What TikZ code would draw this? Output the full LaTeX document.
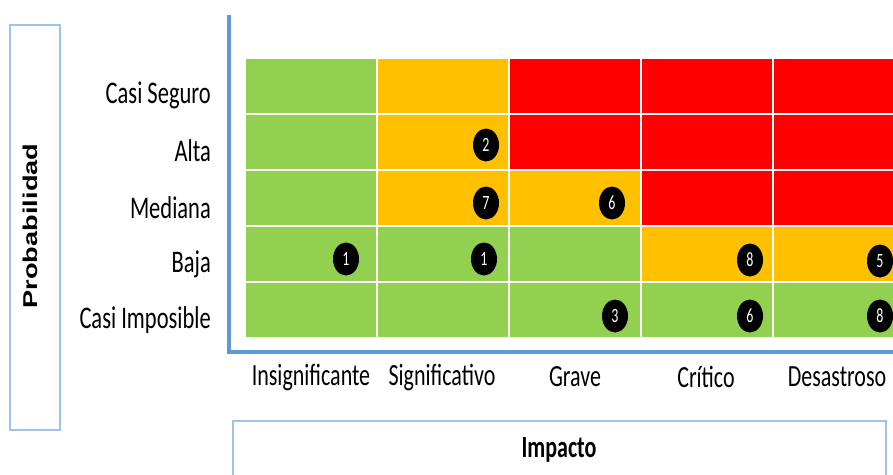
\documentclass[tikz,border=0pt]{standalone}
\usepackage{fontspec}
\setmainfont{Carlito}
\newfontfamily\arialb{Liberation Sans}
\usetikzlibrary{shapes.geometric}
\definecolor{cgreen}{HTML}{92D050}
\definecolor{corange}{HTML}{FFC000}
\definecolor{cred}{HTML}{FF0000}
\definecolor{axisblue}{HTML}{5B9BD5}
\definecolor{boxblue}{HTML}{9DC3E6}
\newcommand{\vstr}[1]{\scalebox{1}[1.4]{#1}}
\newcommand{\dstr}[1]{\scalebox{1}[1.45]{#1}}
\begin{document}
\begin{tikzpicture}[x=1pt,y=-1pt,
  rowlab/.style={anchor=east, inner sep=0pt, font=\fontsize{22.5}{26}\selectfont},
  collab/.style={inner sep=0pt, font=\fontsize{22}{26}\selectfont},
  badge/.style={ellipse, fill=black, text=white, minimum width=26pt, minimum height=33pt, inner sep=0pt, font=\fontsize{14}{16}\selectfont},
  cell/.style={draw=white, line width=1.5pt},
  framebox/.style={draw=boxblue, line width=1.3pt}]
\useasboundingbox (0,0) rectangle (893,474);
\begin{scope}
\clip (0,0) rectangle (893,474);
% grid cells
\foreach \r/\a/\b/\c/\d/\e in {0/cgreen/corange/cred/cred/cred,
                               1/cgreen/corange/cred/cred/cred,
                               2/cgreen/corange/corange/cred/cred,
                               3/cgreen/cgreen/cgreen/corange/corange,
                               4/cgreen/cgreen/cgreen/cgreen/cgreen}{
  \foreach \col [count=\i from 0] in {\a,\b,\c,\d,\e}{
    \filldraw[cell, fill=\col] (245+132*\i, 58+56*\r) rectangle ++(132,56);
  }
}
% axes
\coordinate (axtop) at (229,15);
\coordinate (axcorner) at (229,352);
\coordinate (axright) at (900,352);
\draw[axisblue, line width=3.5pt] (axtop) -- (axcorner) -- (axright);
% Impacto box
\coordinate (impA) at (233,421);
\coordinate (impB) at (886,490);
\draw[framebox] (impA) rectangle (impB);
\node[inner sep=0pt, font=\bfseries\fontsize{22}{26}\selectfont] (impacto) at (559,450) {\scalebox{1}[1.4]{Impacto}};
% badges
\node[badge] (b1) at (486,145) {\dstr{2}};
\node[badge] (b2) at (486,203) {\dstr{7}};
\node[badge] (b3) at (612,203) {\dstr{6}};
\node[badge] (b4) at (346,259) {\dstr{1}};
\node[badge] (b5) at (484,259) {\dstr{1}};
\node[badge] (b6) at (750,260) {\dstr{8}};
\node[badge] (b7) at (880,261) {\dstr{5}};
\node[badge] (b8) at (615,316) {\dstr{3}};
\node[badge] (b9) at (750,316) {\dstr{6}};
\node[badge] (b10) at (880,316) {\dstr{8}};
\end{scope}
% probabilidad box
\coordinate (probA) at (10,25);
\coordinate (probB) at (60,430);
\draw[framebox] (probA) rectangle (probB);
\node[rotate=90, inner sep=0pt] (prob) at (30,226) {\arialb\bfseries\fontsize{20}{24}\selectfont\scalebox{1.36}[1]{Probabilidad}};
% row labels
\node[rowlab] (r1) at (211,95) {\vstr{Casi Seguro}};
\node[rowlab] (r2) at (211,151) {\vstr{Alta}};
\node[rowlab] (r3) at (211,208) {\vstr{Mediana}};
\node[rowlab] (r4) at (211,264) {\vstr{Baja}};
\node[rowlab] (r5) at (211,320) {\vstr{Casi Imposible}};
% column labels
\node[collab] (c1) at (311,377) {\vstr{Insignificante}};
\node[collab] (c2) at (442,377) {\vstr{Significativo}};
\node[collab] (c3) at (575,377) {\vstr{Grave}};
\node[collab] (c4) at (706,377) {\vstr{Crítico}};
\node[collab] (c5) at (837,377) {\vstr{Desastroso}};
\end{tikzpicture}
\end{document}
